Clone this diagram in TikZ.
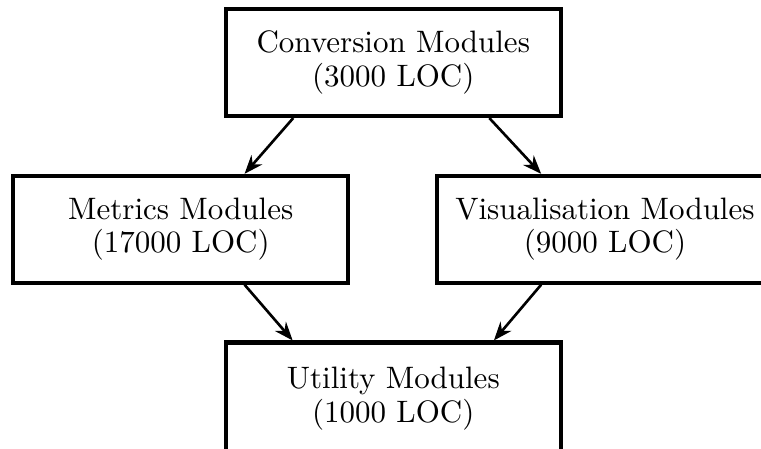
\documentclass[tikz,border=0pt]{standalone}
\usepackage{tikz}
\usetikzlibrary{shapes,arrows,arrows.meta,positioning,calc}

\begin{document}
\begin{tikzpicture}[
    module/.style={rectangle, draw, line width=1.35pt, minimum width=3.8cm, minimum height=1.21cm, align=center, font=\fontsize{10pt}{10.8pt}\selectfont},
    dep/.style={-{Stealth[length=6pt,width=4.6pt]}, line width=0.85pt}
]
    % Frame
    \useasboundingbox (0,0) rectangle (8.63,-5.09);

    % Modules
    \node[module] (conv) at (4.46,-0.71) {Conversion Modules\\(3000 LOC)};
    \node[module] (metrics) at (2.05,-2.60) {Metrics Modules\\(17000 LOC)};
    \node[module] (vis) at (6.86,-2.60) {Visualisation Modules\\(9000 LOC)};
    \node[module, minimum height=1.27cm] (util) at (4.46,-4.52) {Utility Modules\\(1000 LOC)};

    % Dependencies
    \draw[dep] (conv.209) -- (metrics.41);
    \draw[dep] (conv.330) -- (vis.139);
    \draw[dep] (metrics.319) -- (util.150);
    \draw[dep] (vis.221) -- (util.30);
\end{tikzpicture}
\end{document}
